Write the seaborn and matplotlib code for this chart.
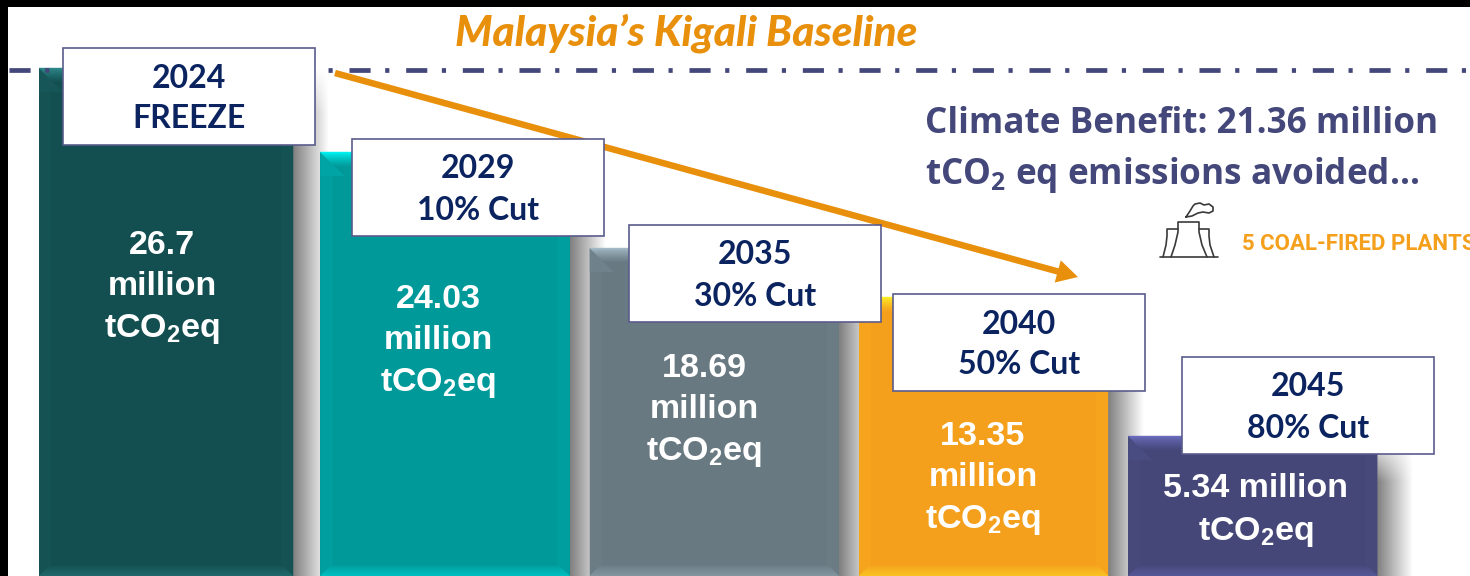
import matplotlib
matplotlib.use('Agg')
import matplotlib.pyplot as plt
import numpy as np
import pandas as pd
import seaborn as sns
from matplotlib.colors import to_rgb
from matplotlib.patches import Polygon, Rectangle

years = ['2024', '2029', '2035', '2040', '2045']
stages = ['FREEZE', '10% Cut', '30% Cut', '50% Cut', '80% Cut']
# drawn height of each bar (not proportional to the labels)
bar_heights = [508, 424, 328, 279, 140]
co2 = r'tCO$_{\mathbf{2}}$eq'
bar_labels = ['26.7\nmillion\n' + co2, '24.03\nmillion\n' + co2, '18.69\nmillion\n' + co2,
              '13.35\nmillion\n' + co2, '5.34 million\n' + co2]
bar_colors = ['#134F51', '#009999', '#687981', '#F5A01D', '#454778']
bevel_colors = ['#2F8A8C', '#00F4F4', '#A5BCC8', '#FFF02A', '#6A6DBE']

W, H = 1470, 576
NAVY = '#0B2460'
INDIGO = '#434779'
ORANGE = '#E8900C'
HEAD = 'Lato'
SIDE = 'Open Sans'

sns.set_theme(style='white')
plt.rcParams['lines.scale_dashes'] = False
plt.rcParams['mathtext.fontset'] = 'custom'
plt.rcParams['mathtext.bf'] = 'Liberation Sans:bold'
plt.rcParams['mathtext.rm'] = 'Open Sans:bold'

fig = plt.figure(figsize=(W / 100, H / 100), dpi=100, facecolor='white')
ax_back = fig.add_axes([0, 0, 1, 1], zorder=0)
ax_bar = fig.add_axes([0, 0, 1, 1], zorder=1)
ax_top = fig.add_axes([0, 0, 1, 1], zorder=2)
ax_top.set_xlim(0, W)
ax_top.set_ylim(H, 0)
ax_top.patch.set_alpha(0)
ax_bar.patch.set_alpha(0)

df = pd.DataFrame({'year': years, 'height': bar_heights})
sns.barplot(data=df, x='year', y='height', hue='year', palette=bar_colors, legend=False,
            width=0.925, saturation=1, linewidth=0, ax=ax_bar)
step = 269.3
ax_bar.set_xlim(-175.7 / step, (W - 175.7) / step)
ax_bar.set_ylim(0, H)

# first bar sits a bit further out than the regular spacing
first = ax_bar.patches[0]
first.set_x(first.get_x() - 12 / step)
first.set_width(first.get_width() + 5 / step)

for a in (ax_back, ax_bar, ax_top):
    a.axis('off')


def to_px(ax, x, y):
    px, py = ax.transData.transform((x, y))
    return px, H - py


# shadow + bevels taken from the bars themselves
for patch, bevel, col in zip(ax_bar.patches, bevel_colors, bar_colors):
    x0, top = to_px(ax_bar, patch.get_x(), patch.get_height())
    x1, bottom = to_px(ax_bar, patch.get_x() + patch.get_width(), 0)

    rows = int(H - top)
    shadow = np.ones((rows, 64, 4))
    shadow[..., :3] = 0.5
    fade = np.clip(np.arange(rows) / 45, 0, 1)[:, None]
    shadow[..., 3] = np.linspace(1, 0, 64)[None, :] * fade
    ax_back.imshow(shadow, extent=(x1, x1 + 36, H, top), aspect='auto', zorder=1)

    c0, c1 = np.array(to_rgb(bevel)), np.array(to_rgb(col))
    side = c0 * 0.05 + c1 * 0.95
    ax_top.add_patch(Polygon([(x0, top), (x0 + 12, top + 12), (x0 + 12, H - 10), (x0, H)],
                             fc=side, ec='none', zorder=1))
    ax_top.add_patch(Polygon([(x1, top), (x1 - 12, top + 12), (x1 - 12, H - 10), (x1, H)],
                             fc=side, ec='none', zorder=1))
    ax_top.add_patch(Polygon([(x0, top), (x0 + 24, top + 24), (x0, top + 24)],
                             fc=c0 * 0.12 + c1 * 0.88, ec='none', zorder=1))

    # top bevel fades from the light colour into the bar
    n = 14
    for i in range(n):
        f = (i / n) ** 0.8
        c = c0 * (1 - f) + c1 * f
        ax_top.add_patch(Polygon([(x0 + i, top + i), (x1 - i, top + i), (x1 - i - 1, top + i + 1),
                                  (x0 + i + 1, top + i + 1)], fc=c, ec=c, lw=0.3, zorder=1.2))
    # bottom bevel
    n = 10
    for i in range(n):
        f = 0.1 + 0.35 * i / n
        c = c0 * f + c1 * (1 - f)
        ax_top.add_patch(Polygon([(x0 + 10 - i, H - 10 + i), (x1 - 10 + i, H - 10 + i),
                                  (x1 - 9 + i, H - 9 + i), (x0 + 9 - i, H - 9 + i)],
                                 fc=c, ec=c, lw=0.3, zorder=1.2))

ax_back.set_xlim(0, W)
ax_back.set_ylim(H, 0)

# bar value labels
label_y = [288, 342, 411, 479, 511]
label_x = [162, 438, 704, 983, 1256]
for x, y, lab in zip(label_x, label_y, bar_labels):
    ax_top.text(x, y, lab, color='white', fontsize=24.5, fontweight='bold', family='Liberation Sans',
                ha='center', va='center', linespacing=1.42, zorder=3)

# dash-dot rule
ax_top.plot([9, W], [70, 70], color=INDIGO, lw=3.4, solid_capstyle='butt', dash_capstyle='butt',
            linestyle=(0, (15.2, 10.5, 3.0, 12.1)), zorder=2)

# arrow goes behind the boxes
ax_top.arrow(335, 73, 743, 204, width=6.5, head_width=23, head_length=21, length_includes_head=True,
             fc=ORANGE, ec='none', zorder=2.2)

# callout boxes
box_x = [63, 352, 629, 893, 1182]
box_y = [48, 139, 225, 294, 357]
for x, y, yr, st in zip(box_x, box_y, years, stages):
    ax_top.add_patch(Rectangle((x, y), 252, 97, fc='white', ec='#5B5C8C', lw=1.2, zorder=3))
    ax_top.text(x + 126, y + 30, yr, color=NAVY, fontsize=23, fontweight='bold', family=HEAD,
                ha='center', va='center', zorder=4)
    ax_top.text(x + 126, y + 71, st, color=NAVY, fontsize=23, fontweight='bold', family=HEAD,
                ha='center', va='center', zorder=4)

# title and side text
ax_top.text(686, 33, 'Malaysia’s Kigali Baseline', color=ORANGE, fontsize=30.5, fontweight=900,
            style='italic', family=HEAD, ha='center', va='center', zorder=4)
ax_top.text(925, 124, 'Climate Benefit: 21.36 million', color=INDIGO, fontsize=25.3, fontweight='bold',
            family=SIDE, ha='left', va='center', zorder=4)
ax_top.text(925, 175, r'tCO$_{\mathrm{2}}$ eq emissions avoided…', color=INDIGO, fontsize=25.3,
            fontweight='bold', family=SIDE, ha='left', va='center', zorder=4)
ax_top.text(1242, 244, '5 COAL-FIRED PLANTS', color='#F5A01D', fontsize=16, fontweight='bold',
            family='Roboto', ha='left', va='center', zorder=4, clip_on=True)

# power plant icon
icon = '#3A3A3A'
ax_top.plot([1160, 1218], [257, 257], color=icon, lw=1.2, zorder=4)
ax_top.plot([1171, 1175, 1178, 1178, 1199, 1199, 1202, 1207], [257, 245, 232, 222, 222, 232, 245, 257],
            color=icon, lw=1.2, zorder=4)
ax_top.plot([1163, 1166, 1167, 1167, 1178], [257, 245, 236, 229, 229], color=icon, lw=1.2, zorder=4)
ax_top.plot([1199, 1209, 1209, 1210, 1214], [229, 229, 236, 245, 257], color=icon, lw=1.2, zorder=4)
ax_top.plot([1186, 1190, 1193, 1195, 1200, 1204, 1209, 1213, 1213, 1209, 1203, 1198, 1192, 1186],
            [217, 211, 206, 204, 203, 205, 204, 207, 211, 213, 212, 213, 216, 217],
            color=icon, lw=1.2, zorder=4)

# black frame along top and left
ax_top.add_patch(Rectangle((0, 0), W, 7, fc='black', ec='none', zorder=5))
ax_top.add_patch(Rectangle((0, 0), 8, H, fc='black', ec='none', zorder=5))

fig.savefig('out.png', dpi=100)
